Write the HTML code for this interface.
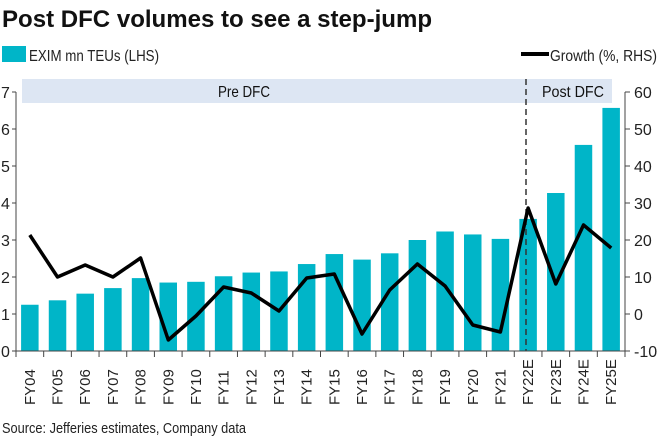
<!DOCTYPE html>
<html><head><meta charset="utf-8"><style>
html,body{margin:0;padding:0;background:#fff;}
svg{display:block;font-family:"Liberation Sans Narrow","Liberation Sans",sans-serif;}
</style></head><body>
<svg width="660" height="440" viewBox="0 0 660 440">
<text x="2" y="27" font-size="24" font-weight="bold" fill="#111" textLength="430" lengthAdjust="spacingAndGlyphs">Post DFC volumes to see a step-jump</text>
<rect x="2" y="46" width="24" height="16" fill="#00b5c8"/>
<text x="29" y="61" font-size="16" fill="#222" textLength="130" lengthAdjust="spacingAndGlyphs">EXIM mn TEUs (LHS)</text>
<line x1="521" y1="54" x2="549" y2="54" stroke="#000" stroke-width="4"/>
<text x="550" y="61" font-size="16" fill="#222" textLength="107" lengthAdjust="spacingAndGlyphs">Growth (%, RHS)</text>
<rect x="22" y="79" width="590" height="24" fill="#dde6f3"/>
<text x="244" y="97" font-size="16" fill="#111" text-anchor="middle" textLength="52" lengthAdjust="spacingAndGlyphs">Pre DFC</text>
<text x="573" y="97" font-size="16" fill="#111" text-anchor="middle" textLength="62" lengthAdjust="spacingAndGlyphs">Post DFC</text>
<g id="bars" fill="#00b5c8"></g>
<line x1="526" y1="79" x2="526" y2="351" stroke="#333" stroke-width="1.5" stroke-dasharray="6,4"/>
<g stroke="#444" stroke-width="1" fill="none">
<line x1="16" y1="92" x2="16" y2="351"/>
<line x1="16" y1="351" x2="625" y2="351"/>
<line x1="625" y1="92" x2="625" y2="351"/>
</g>
<g id="ticks" stroke="#444" stroke-width="1"></g>
<g id="lt" font-size="16" fill="#222"></g>
<polyline id="gl" fill="none" stroke="#000" stroke-width="3.5" stroke-linejoin="round"/>
<g id="xl" font-size="15" fill="#222"></g>
<text x="2" y="433" font-size="15" fill="#222" textLength="244" lengthAdjust="spacingAndGlyphs">Source: Jefferies estimates, Company data</text>
</svg>
<script>
var ns="http://www.w3.org/2000/svg";
function el(t,a,p,txt){var e=document.createElementNS(ns,t);for(var k in a)e.setAttribute(k,a[k]);if(txt!=null)e.textContent=txt;document.getElementById(p).appendChild(e);return e;}
var vals=[1.25,1.37,1.55,1.7,1.97,1.85,1.87,2.02,2.12,2.15,2.35,2.62,2.47,2.64,3.0,3.23,3.15,3.03,3.57,4.27,5.57,6.57];
var gy=[235,277,265,277,258,340,316,287,293,311,278,274,334,290,264,286,325,332,208,284,225,248];
var labs=["FY04","FY05","FY06","FY07","FY08","FY09","FY10","FY11","FY12","FY13","FY14","FY15","FY16","FY17","FY18","FY19","FY20","FY21","FY22E","FY23E","FY24E","FY25E"];
var sp=609/22,pts=[];
for(var i=0;i<22;i++){var cx=16+sp*(i+0.5);var h=vals[i]*37;
el("rect",{x:cx-8.75,y:351-h,width:17.5,height:h},"bars");
pts.push(cx.toFixed(1)+","+gy[i]);
el("line",{x1:16+sp*i,y1:351,x2:16+sp*i,y2:357},"ticks");
el("text",{x:0,y:0,transform:"translate("+(cx+5)+",405) rotate(-90)"},"xl",labs[i]);}
el("line",{x1:625,y1:351,x2:625,y2:357},"ticks");
document.getElementById("gl").setAttribute("points",pts.join(" "));
for(var v=0;v<=7;v++){var y=351-v*37;el("line",{x1:12,y1:y,x2:16,y2:y},"ticks");el("text",{x:1,y:y+6},"lt",v);}
for(var g=-10;g<=60;g+=10){var y=351-(g+10)*3.7;el("line",{x1:625,y1:y,x2:630,y2:y},"ticks");el("text",{x:634,y:y+6},"lt",g);}
</script>
</body></html>
